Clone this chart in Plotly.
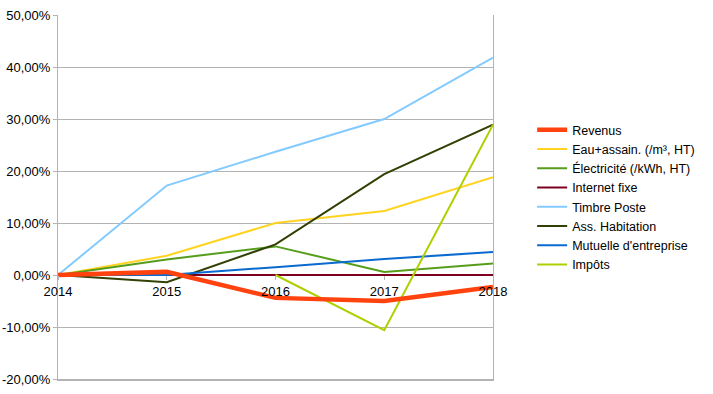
import plotly.graph_objects as go

years = ["2014", "2015", "2016", "2017", "2018"]

revenus = [0.0, 0.6, -4.4, -5.0, -2.3]
eau = [0.0, 3.7, 10.0, 12.3, 18.8]
electricite = [0.0, 3.0, 5.5, 0.6, 2.2]
internet = [0.0, 0.0, 0.0, 0.0, 0.0]
timbre = [0.0, 17.2, 23.7, 30.0, 41.8]
habitation = [0.0, -1.4, 5.9, 19.4, 28.9]
mutuelle = [0.0, 0.0, 1.5, 3.1, 4.4]
impots = [None, None, 0.0, -10.6, 28.9]

series = [
    ("Revenus", revenus, "#ff420e", 4.5),
    ("Eau+assain. (/m³, HT)", eau, "#ffd320", 2),
    ("Électricité (/kWh, HT)", electricite, "#579d1c", 2),
    ("Internet fixe", internet, "#7e0021", 2),
    ("Timbre Poste", timbre, "#83caff", 2),
    ("Ass. Habitation", habitation, "#314004", 2),
    ("Mutuelle d'entreprise", mutuelle, "#0a6ad0", 2),
    ("Impôts", impots, "#aecf00", 2),
]

y_ticks = [-20, -10, 0, 10, 20, 30, 40, 50]
y_ticktext = ["-20,00%", "-10,00%", "0,00%", "10,00%", "20,00%",
              "30,00%", "40,00%", "50,00%"]

fig = go.Figure()
draw_order = list(range(1, len(series))) + [0]
for i in draw_order:
    name, vals, color, w = series[i]
    fig.add_trace(go.Scatter(
        x=years, y=vals, name=name, mode="lines",
        line=dict(color=color, width=w),
        legendrank=i + 1,
        hoverinfo="skip",
    ))

# helper trace to carry the category axis crossing at 0
fig.add_trace(go.Scatter(x=years, y=[None] * len(years), xaxis="x2",
                         showlegend=False, hoverinfo="skip"))

grid = "#b3b3b3"
fig.update_layout(
    width=713, height=394,
    margin=dict(l=58, r=220, t=15, b=15, autoexpand=False),
    paper_bgcolor="white", plot_bgcolor="white",
    font=dict(family="Liberation Sans, Arial, sans-serif", size=13, color="black"),
    showlegend=True,
    legend=dict(x=1.09, xanchor="left", y=0.5, yanchor="middle",
                font=dict(size=12.5), tracegroupgap=0,
                bgcolor="rgba(0,0,0,0)"),
    xaxis=dict(type="category", range=[0, len(years) - 1], automargin=False,
               showticklabels=False, showgrid=False, zeroline=False,
               showline=True, linecolor=grid, linewidth=2, ticks=""),
    xaxis2=dict(type="category", range=[0, len(years) - 1], overlaying="x",
                anchor="free", position=20 / 70, side="bottom", automargin=False,
                showgrid=False, zeroline=False, showline=False,
                tickvals=years, ticktext=years,
                ticks="outside", ticklen=4, tickcolor=grid, tickwidth=1,
                tickfont=dict(size=13)),
    yaxis=dict(range=[-20, 50], tickvals=y_ticks, ticktext=y_ticktext,
               automargin=False,
               showgrid=True, gridcolor=grid, gridwidth=1,
               zeroline=False, showline=True, linecolor=grid, linewidth=1,
               mirror=True, ticks="outside", ticklen=4, tickcolor=grid,
               tickfont=dict(size=13)),
)

fig.write_html("out.html",
               config={"displayModeBar": False},
               post_script="document.body.style.margin='0';document.body.style.padding='0';")
